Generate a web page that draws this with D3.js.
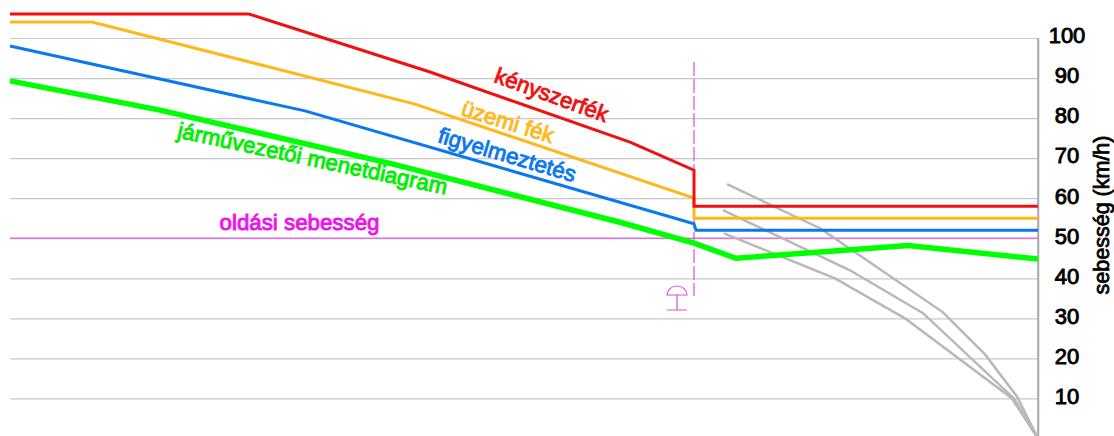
<!DOCTYPE html>
<html>
<head>
<meta charset="utf-8">
<script src="https://cdn.jsdelivr.net/npm/d3@7"></script>
<style>
  body { margin: 0; background: white; }
  text { font-family: "Liberation Sans", Arial, sans-serif; }
</style>
</head>
<body>
<div id="chart"></div>
<script>
// distance along the track is only known as position on the picture, so x is unitless
const speedTicks = [10, 20, 30, 40, 50, 60, 70, 80, 90, 100];
const releaseSpeed = 50;
const signalPos = 694;

// [distance, km/h]
const emergency = [[10, 106], [249, 106], [430, 91.5], [630, 74], [694, 67], [694, 58], [1038, 58]];
const service = [[10, 104], [92, 104], [415, 83.5], [694, 60], [694, 55], [1038, 55]];
const warning = [[10, 98], [305, 81.8], [694, 53.6], [696, 52], [1038, 52]];
const driver = [[10, 89.3], [160, 82], [393, 68.5], [620, 54], [694, 48.8], [736, 45], [908, 48.2], [1038, 44.8]];

const brakeA = [[727, 63.5], [820, 52.5], [943, 31.5], [985, 21], [1017, 10.5], [1038, 0]];
const brakeB = [[723, 57], [850, 42], [923, 31.3], [1014, 10], [1038, 0]];
const brakeC = [[724, 51.2], [835, 40], [905, 30], [1012, 10], [1038, 0]];

const width = 1114, height = 436;

const x = d3.scaleLinear().domain([0, 1114]).range([0, 1114]);
const y = d3.scaleLinear().domain([0, 100]).range([438.5, 38]);

const svg = d3.select('#chart')
  .append('svg')
  .attr('width', width)
  .attr('height', height)
  .style('display', 'block');

const line = d3.line().x(d => x(d[0])).y(d => y(d[1]));

// gridlines
svg.append('g')
  .attr('transform', 'translate(' + x(1038) + ',0)')
  .call(d3.axisLeft(y).tickValues(speedTicks).tickSize(x(1038) - x(10)).tickFormat(''))
  .call(g => g.select('.domain').remove())
  .call(g => g.selectAll('line').attr('stroke', '#c8c8c8').attr('stroke-width', 1.2));

// right axis
svg.append('g')
  .attr('transform', 'translate(' + x(1038) + ',0)')
  .call(d3.axisRight(y).tickValues(speedTicks).tickSize(0).tickPadding(29))
  .call(g => g.select('.domain').attr('stroke', '#a8a8a8').attr('stroke-width', 1.5))
  .call(g => g.selectAll('text')
    .attr('text-anchor', 'middle')
    .attr('dy', '0.22em')
    .attr('font-size', 22).attr('fill', '#000')
    .attr('stroke', '#000').attr('stroke-width', 0.9)
    .style('font-family', '"Liberation Sans", Arial, sans-serif'));

svg.append('line')
  .attr('x1', x(1038)).attr('x2', x(1038))
  .attr('y1', y(0)).attr('y2', y(100))
  .attr('stroke', '#a8a8a8').attr('stroke-width', 1.5);

svg.append('text')
  .attr('transform', 'translate(1109,215) rotate(-90)')
  .attr('text-anchor', 'middle')
  .attr('font-size', 21.5)
  .attr('stroke', '#000').attr('stroke-width', 0.8)
  .text('sebesség (km/h)');

// release speed
svg.append('line')
  .attr('x1', x(10)).attr('x2', x(1038))
  .attr('y1', y(releaseSpeed)).attr('y2', y(releaseSpeed))
  .attr('stroke', '#e070e0').attr('stroke-width', 1.3);

// braking curves behind the signal
[brakeA, brakeB, brakeC].forEach(d => {
  svg.append('path').datum(d)
    .attr('d', line).attr('fill', 'none')
    .attr('stroke', '#b8b8b8').attr('stroke-width', 2.5);
});

// signal line and symbol
svg.append('line')
  .attr('x1', x(signalPos)).attr('x2', x(signalPos))
  .attr('y1', 62).attr('y2', 296)
  .attr('stroke', '#d850d8').attr('stroke-width', 1.2)
  .attr('stroke-dasharray', '14 3');

const sym = svg.append('g')
  .attr('transform', 'translate(' + x(signalPos - 17) + ',295)')
  .attr('fill', 'none').attr('stroke', '#d850d8').attr('stroke-width', 1.2);
sym.append('path').attr('d', 'M-10,0 A10,9 0 0 1 10,0 Z');
sym.append('path').attr('d', 'M0,0 V15 M-10,15 H10');

// speed curves
const curves = [
  { data: driver, color: '#00ff00', w: 5.5 },
  { data: warning, color: '#0a78f0', w: 3 },
  { data: service, color: '#ffb81c', w: 3 },
  { data: emergency, color: '#ee1111', w: 3 }
];
curves.forEach(c => {
  svg.append('path').datum(c.data)
    .attr('d', line).attr('fill', 'none')
    .attr('stroke', c.color).attr('stroke-width', c.w)
    .attr('stroke-linejoin', 'miter');
});

// curve labels
const labels = [
  { t: 'kényszerfék', px: 549, py: 102, r: 20, color: '#ee1111' },
  { t: 'üzemi fék', px: 505.5, py: 129, r: 17.5, color: '#ffb81c' },
  { t: 'figyelmeztetés', px: 505, py: 162, r: 16.4, color: '#0a78f0' },
  { t: 'járművezetői menetdiagram', px: 311, py: 166, r: 12, color: '#00ee00' },
  { t: 'oldási sebesség', px: 299.5, py: 230, r: 0, color: '#ee11ee' }
];
labels.forEach(l => {
  svg.append('text')
    .attr('transform', 'translate(' + l.px + ',' + l.py + ') rotate(' + l.r + ')')
    .attr('text-anchor', 'middle')
    .attr('font-size', 22.3)
    .attr('fill', l.color)
    .attr('stroke', l.color).attr('stroke-width', 0.9)
    .text(l.t);
});
</script>
</body>
</html>
